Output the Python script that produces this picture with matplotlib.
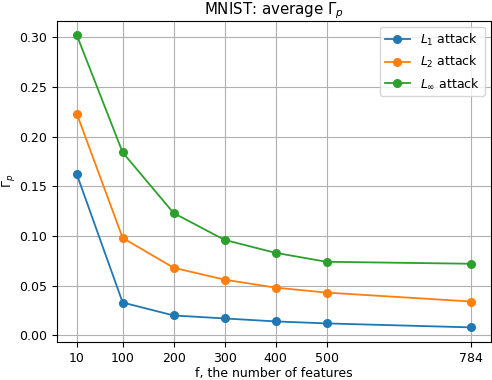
import numpy as np
import matplotlib
matplotlib.use("Agg")
from matplotlib import pyplot as plt

plt.rcParams['font.size'] = 9

features = [10, 100, 200, 300, 400, 500, 784]
gamma_l1 = [0.162, 0.033, 0.020, 0.017, 0.014, 0.012, 0.008]
gamma_l2 = [0.223, 0.098, 0.068, 0.056, 0.048, 0.043, 0.034]
gamma_linf = [0.302, 0.184, 0.123, 0.096, 0.083, 0.074, 0.072]

fig = plt.figure(figsize=(4.92, 3.8), dpi=100)
ax = fig.add_axes([0.116, 0.1, 0.882, 0.846])

ax.plot(features, gamma_l1, 'o-', ms=5.5, lw=1.3, label='$L_1$ attack')
ax.plot(features, gamma_l2, 'o-', ms=5.5, lw=1.3, label='$L_2$ attack')
ax.plot(features, gamma_linf, 'o-', ms=5.5, lw=1.3, label=r'$L_\infty$ attack')

ax.set_xticks(features)
ax.set_title(r'MNIST: average $\Gamma_p$', pad=0.5)
ax.set_xlabel('f, the number of features', labelpad=2)
ax.set_ylabel(r'$\Gamma_p$', labelpad=2)
ax.grid(True)
ax.legend(loc='upper right')

fig.savefig('out.png', dpi=100)
